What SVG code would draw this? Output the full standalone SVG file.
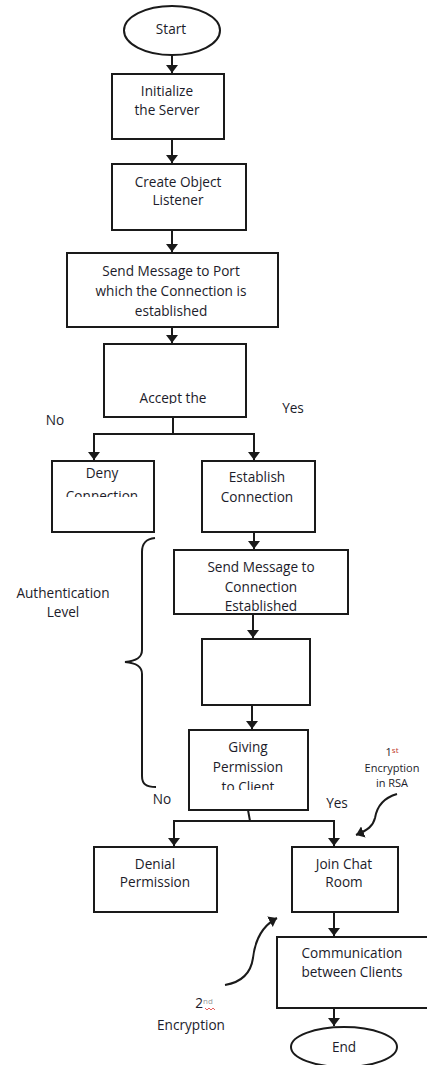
<svg xmlns="http://www.w3.org/2000/svg" width="427" height="1065" viewBox="0 0 427 1065">
<style>
.b{fill:#fff;stroke:#1a1a1a;stroke-width:2}
.t{font-family:"Open Sans","Liberation Sans",sans-serif;font-size:13.6px;fill:#1c1c2a;text-anchor:middle}
.s{font-size:11px}
.c{fill:none;stroke:#1a1a1a;stroke-width:2}
</style>
<defs>
<marker id="ah" viewBox="0 0 8 12" refX="8" refY="6" markerWidth="8" markerHeight="12" orient="auto" markerUnits="userSpaceOnUse"><path d="M0,0 L8,6 L0,12 z" fill="#1a1a1a"/></marker>
<clipPath id="cAccept"><rect x="104" y="344" width="142" height="60"/></clipPath>
<clipPath id="cDeny"><rect x="52" y="461" width="102" height="36"/></clipPath>
<clipPath id="cGiving"><rect x="189" y="730" width="119" height="60"/></clipPath>
</defs>
<rect width="427" height="1065" fill="#fff"/>
<g id="connectors">
<path class="c" d="M172,52 L172,73" marker-end="url(#ah)"/>
<path class="c" d="M172,139 L172,163" marker-end="url(#ah)"/>
<path class="c" d="M172,230 L172,252" marker-end="url(#ah)"/>
<path class="c" d="M172,327 L172,343" marker-end="url(#ah)"/>
<path class="c" d="M173,417 L173,434 M94,434 L254,434"/>
<path class="c" d="M94,433 L94,460" marker-end="url(#ah)"/>
<path class="c" d="M254,433 L254,460" marker-end="url(#ah)"/>
<path class="c" d="M254,527 L254,549" marker-end="url(#ah)"/>
<path class="c" d="M253,614 L253,638" marker-end="url(#ah)"/>
<path class="c" d="M252,705 L252,729" marker-end="url(#ah)"/>
<path class="c" d="M248,810 L250,821 M174,821 L334,821"/>
<path class="c" d="M174,820 L174,846" marker-end="url(#ah)"/>
<path class="c" d="M334,820 L334,846" marker-end="url(#ah)"/>
<path class="c" d="M334,912 L334,936" marker-end="url(#ah)"/>
<path class="c" d="M334,1002 L334,1026" marker-end="url(#ah)"/>
<path class="c" d="M397,794 C383,798 377,806 375,818 C373,826 368,830 356,835" marker-end="url(#ah)"/>
<path class="c" d="M225,985 C243,982 251,972 253,958 C255,940 262,926 277,918" marker-end="url(#ah)"/>
<path class="c" d="M155,538 C146,539 142,543 142,552 L142,650 C142,658 136,661 125,662 C136,663 142,666 142,674 L142,776 C142,784 146,787 156,787"/>
</g>
<g id="start"><ellipse class="b" cx="172" cy="30.5" rx="48" ry="24.5"/><text class="t" x="171" y="33.5">Start</text></g>
<g id="init"><rect class="b" x="112" y="74" width="112" height="65"/><text class="t" x="167" y="95.5">Initialize</text><text class="t" x="167" y="114.5">the Server</text></g>
<g id="create"><rect class="b" x="112" y="164" width="134" height="66"/><text class="t" x="178" y="186.5">Create Object</text><text class="t" x="178" y="204.5">Listener</text></g>
<g id="sendport"><rect class="b" x="67" y="253" width="211" height="74"/><text class="t" x="171" y="275.5">Send Message to Port</text><text class="t" x="171" y="295.5">which the Connection  is</text><text class="t" x="171" y="315.5">established</text></g>
<g id="accept"><rect class="b" x="104" y="344" width="142" height="73"/><text class="t" x="173" y="402.5" clip-path="url(#cAccept)">Accept the</text></g>
<g id="labels1"><text class="t" x="55" y="425">No</text><text class="t" x="293" y="413">Yes</text></g>
<g id="deny"><rect class="b" x="52" y="461" width="102" height="71"/><g clip-path="url(#cDeny)"><text class="t" x="102" y="477.5">Deny</text><text class="t" x="102" y="500.5">Connection</text></g></g>
<g id="establish"><rect class="b" x="202" y="461" width="113" height="71"/><text class="t" x="257" y="481.5">Establish</text><text class="t" x="257" y="501.5">Connection</text></g>
<g id="sendconn"><rect class="b" x="174" y="550" width="174" height="64"/><text class="t" x="261" y="571.5">Send Message to</text><text class="t" x="261" y="591.5">Connection</text><text class="t" x="261" y="611">Established</text></g>
<g id="blank"><rect class="b" x="202" y="639" width="108" height="66"/></g>
<g id="giving"><rect class="b" x="189" y="730" width="119" height="80"/><g clip-path="url(#cGiving)"><text class="t" x="248" y="751.5">Giving</text><text class="t" x="248" y="771.5">Permission</text><text class="t" x="248" y="792">to Client</text></g></g>
<g id="authlabel"><text class="t" x="63" y="597.5">Authentication</text><text class="t" x="63" y="616.5">Level</text></g>
<g id="enc1"><text class="t s" x="392" y="756">1<tspan font-size="8" dy="-3" fill="#c0392b">st</tspan></text><text class="t s" x="392" y="772">Encryption</text><text class="t s" x="392" y="787">in RSA</text></g>
<g id="labels2"><text class="t" x="162" y="804">No</text><text class="t" x="337" y="808">Yes</text></g>
<g id="denial"><rect class="b" x="94" y="847" width="123" height="65"/><text class="t" x="155" y="868.5">Denial</text><text class="t" x="155" y="886.5">Permission</text></g>
<g id="join"><rect class="b" x="292" y="847" width="106" height="65"/><text class="t" x="344" y="868.5">Join Chat</text><text class="t" x="344" y="886.5">Room</text></g>
<g id="comm"><rect class="b" x="277" y="937" width="160" height="71"/><text class="t" x="352" y="957.5">Communication</text><text class="t" x="352" y="976.5">between Clients</text></g>
<g id="enc2"><text class="t" x="204" y="1008">2<tspan font-size="8" dy="-4" fill="#999">nd</tspan></text><path d="M205,1008 l2,2 l2,-2 l2,2 l2,-2 l2,2" fill="none" stroke="#d33" stroke-width="0.8"/><text class="t" x="191" y="1029.5">Encryption</text></g>
<g id="end"><ellipse class="b" cx="344" cy="1047" rx="53" ry="20"/><text class="t" x="344" y="1051.5">End</text></g>
</svg>
